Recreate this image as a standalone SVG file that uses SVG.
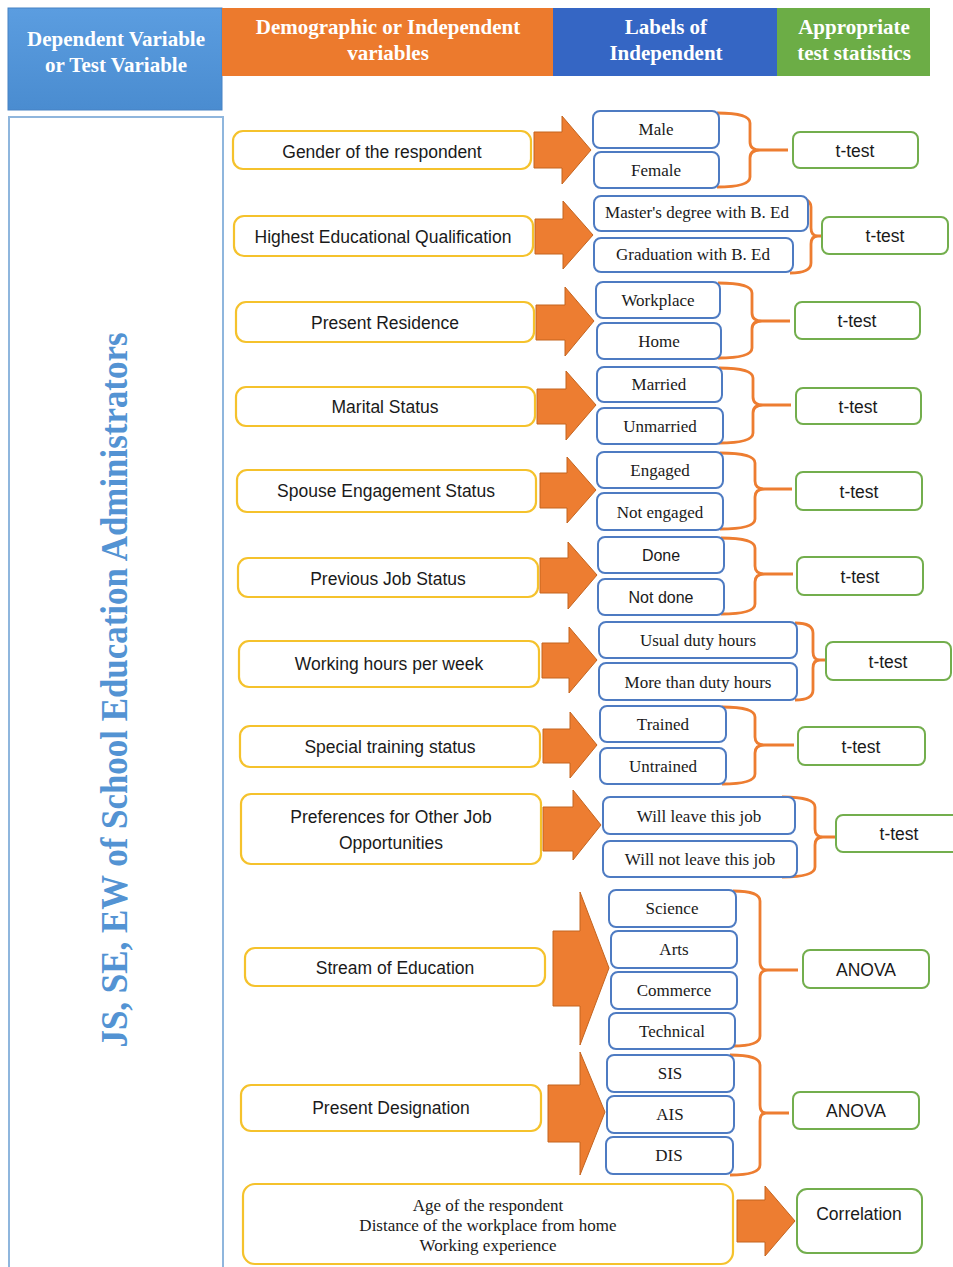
<svg xmlns="http://www.w3.org/2000/svg" width="953" height="1267" viewBox="0 0 953 1267">
<defs>
<style>
.hdr{font-family:"Liberation Serif","Times New Roman",serif;font-weight:bold;font-size:21px;fill:#fff;text-anchor:middle}
.yb{fill:#fff;stroke:#f5c22c;stroke-width:2.2}
.lb{fill:#fff;stroke:#4e7bc2;stroke-width:2}
.gb{fill:#fff;stroke:#73ae4d;stroke-width:2}
.sans{font-family:"Liberation Sans",Arial,sans-serif;font-size:17.5px;fill:#1a1a1a;text-anchor:middle}
.dn{font-family:"Liberation Sans",Arial,sans-serif;font-size:16px;fill:#1a1a1a;text-anchor:middle}
.serif{font-family:"Liberation Serif","Times New Roman",serif;font-size:17px;fill:#1a1a1a;text-anchor:middle}
.test{font-family:"Liberation Sans",Arial,sans-serif;font-size:17.5px;fill:#1a1a1a;text-anchor:middle}
.arr{fill:#ed7d31;stroke:#c4641f;stroke-width:1}
.br{fill:none;stroke:#ed7d31;stroke-width:2.8;stroke-linejoin:round}
</style>
<linearGradient id="gBlue" x1="0" y1="0" x2="0" y2="1"><stop offset="0" stop-color="#5b9de0"/><stop offset="1" stop-color="#4a8cd0"/></linearGradient>
</defs>
<rect width="953" height="1267" fill="#fff"/>

<g id="header">
<rect x="8" y="8" width="214" height="102" fill="url(#gBlue)" stroke="#4682c4" stroke-width="1"/>
<rect x="222" y="8" width="331" height="68" fill="#ec7a2d"/>
<rect x="553" y="8" width="224" height="68" fill="#3566c4"/>
<rect x="777" y="8" width="153" height="68" fill="#6cad46"/>
<text class="hdr" x="116" y="46">Dependent Variable</text>
<text class="hdr" x="116" y="72">or Test Variable</text>
<text class="hdr" x="388" y="34">Demographic or Independent</text>
<text class="hdr" x="388" y="60">variables</text>
<text class="hdr" x="666" y="34">Labels of</text>
<text class="hdr" x="666" y="60">Independent</text>
<text class="hdr" x="854" y="34">Appropriate</text>
<text class="hdr" x="854" y="60">test statistics</text>
</g>

<g id="dependent">
<rect x="9" y="117" width="214" height="1160" fill="#fff" stroke="#8fb6dd" stroke-width="2"/>
<text transform="translate(127,690) rotate(-90)" x="0" y="0" text-anchor="middle" textLength="715" lengthAdjust="spacingAndGlyphs" font-family="Liberation Serif,'Times New Roman',serif" font-weight="bold" font-size="37" fill="#5393d3">JS, SE, EW of School Education Administrators</text>
</g>

<g id="connectors">
<polygon class="arr" points="534,132 562,132 562,116 591,150 562,184 562,168 534,168"/>
<polygon class="arr" points="535,219 563,219 563,201 593,235 563,269 563,254 535,254"/>
<polygon class="arr" points="536,305 565,305 565,287 594,321 565,356 565,340 536,340"/>
<polygon class="arr" points="537,389 566,389 566,371 596,405 566,440 566,424 537,424"/>
<polygon class="arr" points="540,473 567,473 567,457 596,490 567,523 567,508 540,508"/>
<polygon class="arr" points="540,558 568,558 568,542 597,575 568,609 568,593 540,593"/>
<polygon class="arr" points="542,643 569,643 569,627 597,660 569,693 569,678 542,678"/>
<polygon class="arr" points="543,729 570,729 570,712 597,745 570,778 570,763 543,763"/>
<polygon class="arr" points="543,807 573,807 573,790 601,825 573,860 573,851 543,851"/>
<polygon class="arr" points="553,931 580,931 580,892 609,968 580,1045 580,1006 553,1006"/>
<polygon class="arr" points="548,1085 580,1085 580,1052 605,1112 580,1175 580,1142 548,1142"/>
<polygon class="arr" points="737,1200 765,1200 765,1186 795,1221 765,1256 765,1242 737,1242"/>

<path class="br" d="M717,113 Q750,113 750,123 L750,142 Q750,150 760,150 L788,150 M760,150 Q750,150 750,158 L750,177 Q750,187 717,187"/>
<path class="br" d="M790,197 Q811,197 811,207 L811,228 Q811,236 818,236 L822,236 M818,236 Q811,236 811,244 L811,263 Q811,273 790,273"/>
<path class="br" d="M718,283 Q752,283 752,293 L752,313 Q752,321 762,321 L790,321 M762,321 Q752,321 752,329 L752,348 Q752,358 718,358"/>
<path class="br" d="M719,368 Q753,368 753,378 L753,397 Q753,405 763,405 L791,405 M763,405 Q753,405 753,413 L753,433 Q753,443 719,443"/>
<path class="br" d="M720,453 Q755,453 755,463 L755,481 Q755,489 765,489 L792,489 M765,489 Q755,489 755,497 L755,519 Q755,529 720,529"/>
<path class="br" d="M721,538 Q755,538 755,548 L755,566 Q755,574 765,574 L793,574 M765,574 Q755,574 755,582 L755,604 Q755,614 721,614"/>
<path class="br" d="M795,623 Q813,623 813,633 L813,652 Q813,660 820,660 L826,660 M820,660 Q813,660 813,668 L813,690 Q813,700 795,700"/>
<path class="br" d="M722,707 Q755,707 755,717 L755,737 Q755,745 765,745 L794,745 M765,745 Q755,745 755,753 L755,774 Q755,784 722,784"/>
<path class="br" d="M782,797 Q815,797 815,807 L815,829 Q815,837 823,837 L835,837 M823,837 Q815,837 815,845 L815,867 Q815,877 782,877"/>
<path class="br" d="M733,891 Q760,891 760,901 L760,962 Q760,970 768,970 L798,970 M768,970 Q760,970 760,978 L760,1036 Q760,1046 733,1046"/>
<path class="br" d="M730,1055 Q760,1055 760,1065 L760,1105 Q760,1113 766,1113 L789,1113 M766,1113 Q760,1113 760,1121 L760,1165 Q760,1175 730,1175"/>
</g>

<g id="n-gender">
<rect class="yb" x="233" y="131" width="298" height="38" rx="10"/>
<text class="sans" x="382" y="158">Gender of the respondent</text>
</g>
<g id="n-male"><rect class="lb" x="593" y="111" width="126" height="37" rx="7"/><text class="serif" x="656" y="135">Male</text></g>
<g id="n-female"><rect class="lb" x="594" y="152" width="125" height="36" rx="7"/><text class="serif" x="656" y="176">Female</text></g>
<g id="t-gender"><rect class="gb" x="793" y="132" width="125" height="36" rx="7"/><text class="test" x="855" y="157">t-test</text></g>

<g id="n-education">
<rect class="yb" x="234" y="216" width="299" height="40" rx="10"/>
<text class="sans" x="383" y="243">Highest Educational Qualification</text>
</g>
<g id="n-masters"><rect class="lb" x="594" y="196" width="214" height="35" rx="7"/><text class="serif" x="697" y="218" font-size="15">Master's degree with B. Ed</text></g>
<g id="n-graduation"><rect class="lb" x="594" y="238" width="199" height="34" rx="7"/><text class="serif" x="693" y="260" font-size="15">Graduation with B. Ed</text></g>
<g id="t-education"><rect class="gb" x="822" y="217" width="126" height="37" rx="7"/><text class="test" x="885" y="242">t-test</text></g>

<g id="n-residence">
<rect class="yb" x="236" y="302" width="298" height="40" rx="10"/>
<text class="sans" x="385" y="329">Present Residence</text>
</g>
<g id="n-workplace"><rect class="lb" x="596" y="282" width="124" height="36" rx="7"/><text class="serif" x="658" y="306">Workplace</text></g>
<g id="n-home"><rect class="lb" x="597" y="323" width="124" height="36" rx="7"/><text class="serif" x="659" y="347">Home</text></g>
<g id="t-residence"><rect class="gb" x="795" y="302" width="125" height="37" rx="7"/><text class="test" x="857" y="327">t-test</text></g>

<g id="n-marital">
<rect class="yb" x="236" y="387" width="299" height="39" rx="10"/>
<text class="sans" x="385" y="413">Marital Status</text>
</g>
<g id="n-married"><rect class="lb" x="597" y="367" width="125" height="35" rx="7"/><text class="serif" x="659" y="390">Married</text></g>
<g id="n-unmarried"><rect class="lb" x="597" y="408" width="126" height="36" rx="7"/><text class="serif" x="660" y="432">Unmarried</text></g>
<g id="t-marital"><rect class="gb" x="796" y="388" width="125" height="36" rx="7"/><text class="test" x="858" y="413">t-test</text></g>

<g id="n-spouse">
<rect class="yb" x="237" y="470" width="299" height="42" rx="10"/>
<text class="sans" x="386" y="497">Spouse Engagement Status</text>
</g>
<g id="n-engaged"><rect class="lb" x="597" y="452" width="126" height="36" rx="7"/><text class="serif" x="660" y="476">Engaged</text></g>
<g id="n-notengaged"><rect class="lb" x="597" y="493" width="126" height="37" rx="7"/><text class="serif" x="660" y="518">Not engaged</text></g>
<g id="t-spouse"><rect class="gb" x="796" y="472" width="126" height="38" rx="7"/><text class="test" x="859" y="498">t-test</text></g>

<g id="n-prevjob">
<rect class="yb" x="238" y="558" width="300" height="39" rx="10"/>
<text class="sans" x="388" y="585">Previous Job Status</text>
</g>
<g id="n-done"><rect class="lb" x="598" y="537" width="126" height="36" rx="7"/><text class="dn" x="661" y="561">Done</text></g>
<g id="n-notdone"><rect class="lb" x="598" y="579" width="126" height="36" rx="7"/><text class="dn" x="661" y="603">Not done</text></g>
<g id="t-prevjob"><rect class="gb" x="797" y="557" width="126" height="38" rx="7"/><text class="test" x="860" y="583">t-test</text></g>

<g id="n-hours">
<rect class="yb" x="239" y="641" width="300" height="46" rx="10"/>
<text class="sans" x="389" y="670">Working hours per week</text>
</g>
<g id="n-usual"><rect class="lb" x="599" y="622" width="198" height="36" rx="7"/><text class="serif" x="698" y="646">Usual duty hours</text></g>
<g id="n-more"><rect class="lb" x="599" y="663" width="198" height="37" rx="7"/><text class="serif" x="698" y="688">More than duty hours</text></g>
<g id="t-hours"><rect class="gb" x="826" y="642" width="125" height="38" rx="7"/><text class="test" x="888" y="668">t-test</text></g>

<g id="n-training">
<rect class="yb" x="240" y="726" width="300" height="41" rx="10"/>
<text class="sans" x="390" y="753">Special training status</text>
</g>
<g id="n-trained"><rect class="lb" x="600" y="706" width="126" height="36" rx="7"/><text class="serif" x="663" y="730">Trained</text></g>
<g id="n-untrained"><rect class="lb" x="600" y="748" width="126" height="36" rx="7"/><text class="serif" x="663" y="772">Untrained</text></g>
<g id="t-training"><rect class="gb" x="798" y="727" width="127" height="38" rx="7"/><text class="test" x="861" y="753">t-test</text></g>

<g id="n-preferences">
<rect class="yb" x="241" y="794" width="300" height="70" rx="10"/>
<text class="sans" x="391" y="823">Preferences for Other Job</text>
<text class="sans" x="391" y="849">Opportunities</text>
</g>
<g id="n-willleave"><rect class="lb" x="603" y="797" width="192" height="37" rx="7"/><text class="serif" x="699" y="822">Will leave this job</text></g>
<g id="n-willnotleave"><rect class="lb" x="603" y="841" width="194" height="36" rx="7"/><text class="serif" x="700" y="865">Will not leave this job</text></g>
<g id="t-preferences"><rect class="gb" x="836" y="815" width="135" height="37" rx="7"/><text class="test" x="899" y="840">t-test</text></g>

<g id="n-stream">
<rect class="yb" x="245" y="948" width="300" height="38" rx="10"/>
<text class="sans" x="395" y="974">Stream of Education</text>
</g>
<g id="n-science"><rect class="lb" x="609" y="890" width="127" height="37" rx="7"/><text class="serif" x="672" y="914">Science</text></g>
<g id="n-arts"><rect class="lb" x="611" y="931" width="126" height="37" rx="7"/><text class="serif" x="674" y="955">Arts</text></g>
<g id="n-commerce"><rect class="lb" x="611" y="972" width="126" height="37" rx="7"/><text class="serif" x="674" y="996">Commerce</text></g>
<g id="n-technical"><rect class="lb" x="609" y="1013" width="126" height="36" rx="7"/><text class="serif" x="672" y="1037">Technical</text></g>
<g id="t-stream"><rect class="gb" x="803" y="950" width="126" height="38" rx="7"/><text class="test" x="866" y="976">ANOVA</text></g>

<g id="n-designation">
<rect class="yb" x="241" y="1085" width="300" height="46" rx="10"/>
<text class="sans" x="391" y="1114">Present Designation</text>
</g>
<g id="n-sis"><rect class="lb" x="607" y="1055" width="127" height="37" rx="7"/><text class="serif" x="670" y="1079">SIS</text></g>
<g id="n-ais"><rect class="lb" x="607" y="1096" width="127" height="37" rx="7"/><text class="serif" x="670" y="1120">AIS</text></g>
<g id="n-dis"><rect class="lb" x="606" y="1137" width="127" height="37" rx="7"/><text class="serif" x="669" y="1161">DIS</text></g>
<g id="t-designation"><rect class="gb" x="793" y="1092" width="126" height="37" rx="7"/><text class="test" x="856" y="1117">ANOVA</text></g>

<g id="n-age">
<rect class="yb" x="243" y="1184" width="490" height="80" rx="12"/>
<text class="serif" x="488" y="1211">Age of the respondent</text>
<text class="serif" x="488" y="1231">Distance of the workplace from home</text>
<text class="serif" x="488" y="1251">Working experience</text>
</g>
<g id="t-age"><rect class="gb" x="797" y="1189" width="125" height="64" rx="10"/><text class="test" x="859" y="1220">Correlation</text></g>
</svg>
